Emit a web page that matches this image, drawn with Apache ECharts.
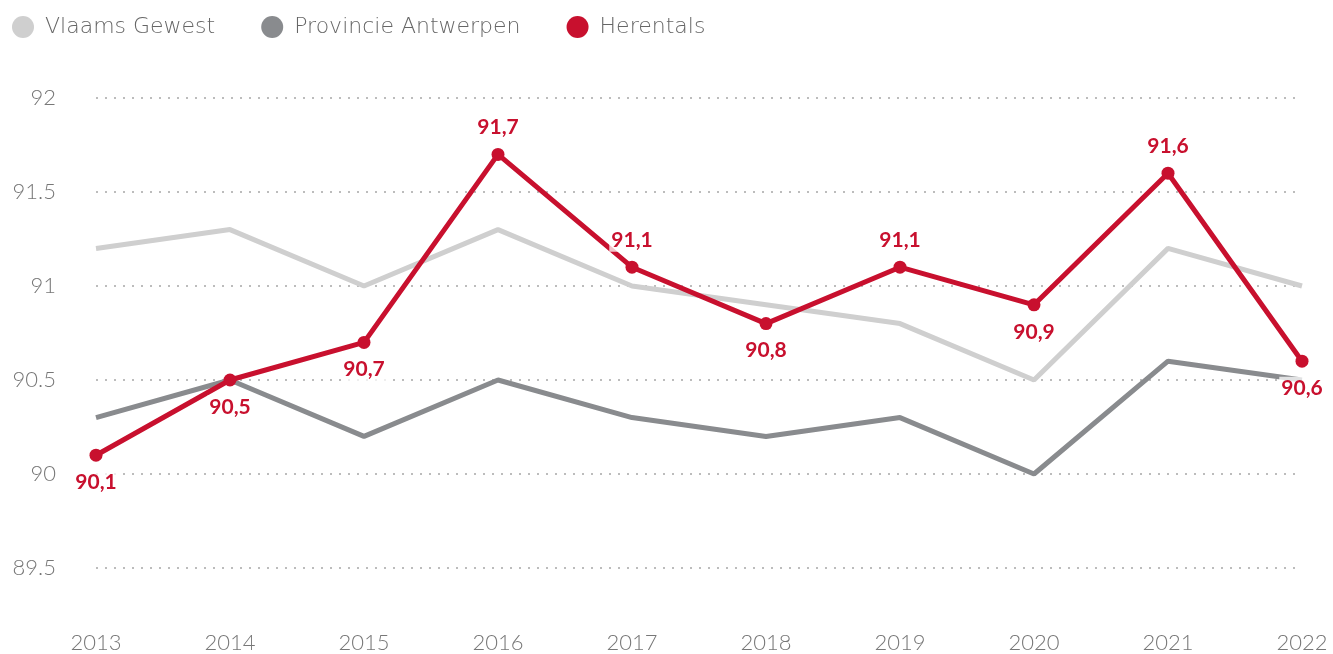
<!DOCTYPE html>
<html>
<head>
<meta charset="utf-8">
<script src="https://cdn.jsdelivr.net/npm/echarts@6/dist/echarts.min.js"></script>
<style>
  html, body { margin: 0; padding: 0; background: #fff; }
  #chart { width: 1333px; height: 654px; }
</style>
</head>
<body>
<div id="chart"></div>
<script>
// Jaren op de x-as
const years = ['2013', '2014', '2015', '2016', '2017', '2018', '2019', '2020', '2021', '2022'];

// Waarden per gebied
const vlaamsGewest = [91.2, 91.3, 91.0, 91.3, 91.0, 90.9, 90.8, 90.5, 91.2, 91.0];
const provincieAntwerpen = [90.3, 90.5, 90.2, 90.5, 90.3, 90.2, 90.3, 90.0, 90.6, 90.5];
const herentals = [90.1, 90.5, 90.7, 91.7, 91.1, 90.8, 91.1, 90.9, 91.6, 90.6];

// Plaats van het waardelabel bij elk punt van Herentals
const herentalsLabelPos = ['bottom', 'bottom', 'bottom', 'top', 'top', 'bottom', 'top', 'bottom', 'top', 'bottom'];

const FONT = 'Lato, "Open Sans", sans-serif';
const LEGEND_FONT = '"DejaVu Sans", Lato, sans-serif';
const RED = '#c8102e';

const chart = echarts.init(document.getElementById('chart'));

chart.setOption({
  animation: false,
  textStyle: { fontFamily: FONT },
  legend: {
    left: 7,
    top: 11,
    itemWidth: 22,
    itemHeight: 22,
    itemGap: 46,
    icon: 'circle',
    textStyle: { fontFamily: LEGEND_FONT, fontSize: 22, fontWeight: 200, color: '#666', padding: [0, 0, 0, 6] },
    data: ['Vlaams Gewest', 'Provincie Antwerpen', 'Herentals']
  },
  grid: { left: 96, right: 31, top: 98, bottom: 86 },
  xAxis: {
    type: 'category',
    data: years,
    boundaryGap: false,
    axisLine: { show: false },
    axisTick: { show: false },
    axisLabel: { fontFamily: FONT, fontSize: 22, fontWeight: 300, color: '#777', margin: 64 }
  },
  yAxis: {
    type: 'value',
    min: 89.5,
    max: 92,
    interval: 0.5,
    axisLine: { show: false },
    axisTick: { show: false },
    axisLabel: { fontFamily: FONT, fontSize: 22, fontWeight: 300, color: '#777', margin: 40 },
    splitLine: { lineStyle: { color: '#bcbcbc', width: 2, type: [2, 7] } }
  },
  series: [
    {
      name: 'Vlaams Gewest',
      type: 'line',
      data: vlaamsGewest,
      color: '#cfcfcf',
      symbol: 'none',
      lineStyle: { width: 5, color: '#cfcfcf' },
      z: 2
    },
    {
      name: 'Provincie Antwerpen',
      type: 'line',
      data: provincieAntwerpen,
      color: '#898b8e',
      symbol: 'none',
      lineStyle: { width: 5, color: '#898b8e' },
      z: 3
    },
    {
      name: 'Herentals',
      type: 'line',
      color: RED,
      symbol: 'circle',
      symbolSize: 13,
      itemStyle: { color: RED },
      lineStyle: { width: 5, color: RED },
      z: 4,
      data: herentals.map((v, i) => ({
        value: v,
        label: { position: herentalsLabelPos[i] }
      })),
      label: {
        show: true,
        distance: 9,
        fontFamily: FONT,
        fontSize: 21,
        fontWeight: 'bold',
        color: RED,
        backgroundColor: 'rgba(255,255,255,0.75)',
        padding: [1, 2],
        formatter: p => String(p.value).replace('.', ',')
      }
    }
  ]
});
</script>
</body>
</html>
